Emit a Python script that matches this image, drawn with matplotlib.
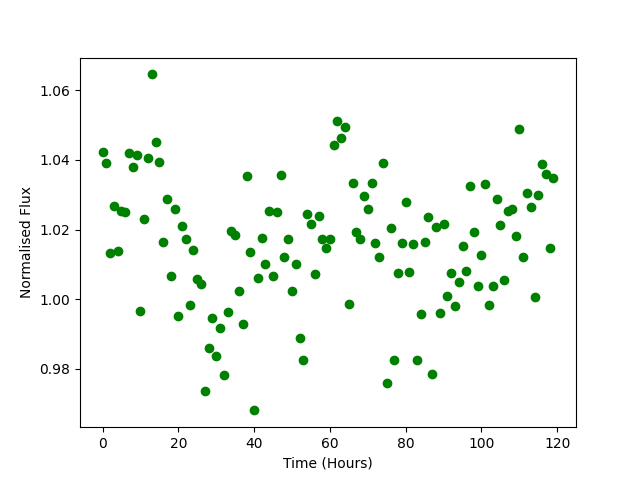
import matplotlib
matplotlib.use('Agg')
import matplotlib.pyplot as plt
import numpy as np

# 시간 (시간 단위)
time_hours = np.arange(120)

# 정규화된 광도 값
flux = [
    1.0424, 1.0390, 1.0133, 1.0269, 1.0137, 1.0253, 1.0249, 1.0419, 1.0381, 1.0413,
    0.9966, 1.0229, 1.0407, 1.0646, 1.0453, 1.0393, 1.0163, 1.0289, 1.0065, 1.0258,
    0.9950, 1.0209, 1.0174, 0.9982, 1.0140, 1.0059, 1.0042, 0.9735, 0.9858, 0.9947,
    0.9835, 0.9916, 0.9781, 0.9963, 1.0195, 1.0185, 1.0022, 0.9927, 1.0353, 1.0134,
    0.9680, 1.0062, 1.0177, 1.0100, 1.0252, 1.0065, 1.0249, 1.0358, 1.0120, 1.0174,
    1.0022, 1.0100, 0.9887, 0.9824, 1.0246, 1.0215, 1.0071, 1.0238, 1.0174, 1.0146,
    1.0172, 1.0442, 1.0513, 1.0463, 1.0496, 0.9986, 1.0335, 1.0193, 1.0174, 1.0295,
    1.0258, 1.0335, 1.0160, 1.0120, 1.0390, 0.9758, 1.0203, 0.9824, 1.0074, 1.0160,
    1.0278, 1.0077, 1.0157, 0.9824, 0.9956, 1.0163, 1.0235, 0.9784, 1.0206, 0.9959,
    1.0215, 1.0008, 1.0074, 0.9979, 1.0048, 1.0154, 1.0080, 1.0324, 1.0192, 1.0039,
    1.0128, 1.0330, 0.9982, 1.0039, 1.0289, 1.0212, 1.0054, 1.0252, 1.0258, 1.0180,
    1.0490, 1.0120, 1.0304, 1.0264, 1.0005, 1.0298, 1.0387, 1.0361, 1.0146, 1.0347,
]

plt.figure(figsize=(6.4, 4.8), dpi=100)
plt.plot(time_hours, flux, 'go')
plt.xlabel('Time (Hours)')
plt.ylabel('Normalised Flux')
plt.savefig('out.png')
